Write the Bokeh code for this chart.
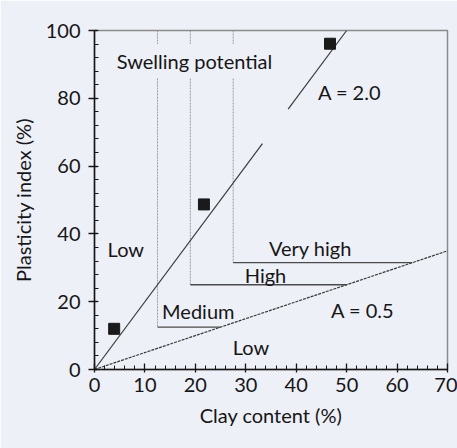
from bokeh.plotting import figure
from bokeh.models import Label, Range1d, SingleIntervalTicker
from bokeh.embed import file_html
from bokeh.resources import INLINE

# ---- data ----
clay_pts = [3.9, 21.7, 46.7]
pi_pts = [12.0, 48.7, 96.1]

# swelling-potential class boundaries: vertical at clay, horizontal at PI, ending on A=0.5
bound_clay = [12.5, 19.0, 27.5]
bound_pi = [12.5, 25.0, 31.5]
bound_end_clay = [25.0, 50.0, 63.0]

# activity lines (PI = A * clay)
a_high = 2.0
a_high_clay_seg1 = [0.0, 33.3]
a_high_clay_seg2 = [38.4, 50.0]
a_low = 0.5
a_low_clay = [0.0, 70.0]

BG = "#eef0f7"
INK = "#161616"
FONT = "Lato"
FS = "20px"

p = figure(width=457, height=448, output_backend="svg", toolbar_location=None,
           x_range=Range1d(0, 70), y_range=Range1d(0, 100),
           min_border_left=94, min_border_right=10, min_border_top=30, min_border_bottom=79)
p.background_fill_color = BG
p.border_fill_color = BG
p.outline_line_color = "#8a8a8a"
p.outline_line_width = 1.5
p.grid.visible = False

# vertical boundaries (faint dotted)
p.segment(x0=bound_clay, y0=[100] * 3, x1=bound_clay, y1=bound_pi,
          line_color="#9a9a9a", line_width=1, line_dash="2 1")
# horizontal boundaries
p.segment(x0=bound_clay, y0=bound_pi, x1=bound_end_clay, y1=bound_pi,
          line_color="#4a4a4a", line_width=1.3)

# A = 2.0 line
p.line(x=a_high_clay_seg1, y=[a_high * c for c in a_high_clay_seg1], line_color="#3a3a3a", line_width=1.2)
p.line(x=a_high_clay_seg2, y=[a_high * c for c in a_high_clay_seg2], line_color="#3a3a3a", line_width=1.2)
# A = 0.5 line
p.line(x=a_low_clay, y=[a_low * c for c in a_low_clay], line_color="#3a3a3a", line_width=1.2,
       line_dash="3 1")

# data points
p.scatter(x=clay_pts, y=pi_pts, marker="square", size=11, fill_color="#1a1a1a", line_color="#1a1a1a")

labels = [
    ("Swelling potential", 3.4, 91.0, True),
    ("A = 2.0", 44.3, 82.0, False),
    ("Low", 2.6, 35.4, False),
    ("Very high", 34.6, 35.8, False),
    ("High", 29.8, 28.0, False),
    ("Medium", 13.4, 17.3, False),
    ("A = 0.5", 46.9, 17.6, False),
    ("Low", 27.4, 6.6, False),
]
for txt, lx, ly, bg in labels:
    kw = {}
    if bg:
        kw = dict(background_fill_color=BG, padding=5)
    p.add_layout(Label(x=lx, y=ly, text=txt, text_font=FONT, text_font_size=FS,
                       text_color=INK, text_align="left", text_baseline="middle", **kw))

for ax in (p.xaxis[0], p.yaxis[0]):
    ax.axis_line_color = INK
    ax.axis_line_width = 1.5
    ax.major_tick_line_color = INK
    ax.minor_tick_line_color = INK
    ax.major_tick_line_width = 1.3
    ax.minor_tick_line_width = 1
    ax.major_label_text_font = FONT
    ax.major_label_text_font_size = FS
    ax.major_label_text_color = INK
    ax.axis_label_text_font = FONT
    ax.axis_label_text_font_size = FS
    ax.axis_label_text_color = INK
    ax.axis_label_text_font_style = "normal"
    ax.minor_tick_in = 4
    ax.minor_tick_out = 0

p.xaxis.ticker = SingleIntervalTicker(interval=10, num_minor_ticks=5)
p.yaxis.ticker = SingleIntervalTicker(interval=20, num_minor_ticks=5)
p.xaxis.major_tick_in = 6
p.xaxis.major_tick_out = 3
p.yaxis.major_tick_in = 3
p.yaxis.major_tick_out = 6
p.xaxis.major_label_standoff = 5
p.yaxis.major_label_standoff = 8
p.xaxis.axis_label = "Clay content (%)"
p.yaxis.axis_label = "Plasticity index (%)"
p.xaxis.axis_label_standoff = 8
p.yaxis.axis_label_standoff = 8

open("out.html", "w").write(file_html(p, INLINE))
